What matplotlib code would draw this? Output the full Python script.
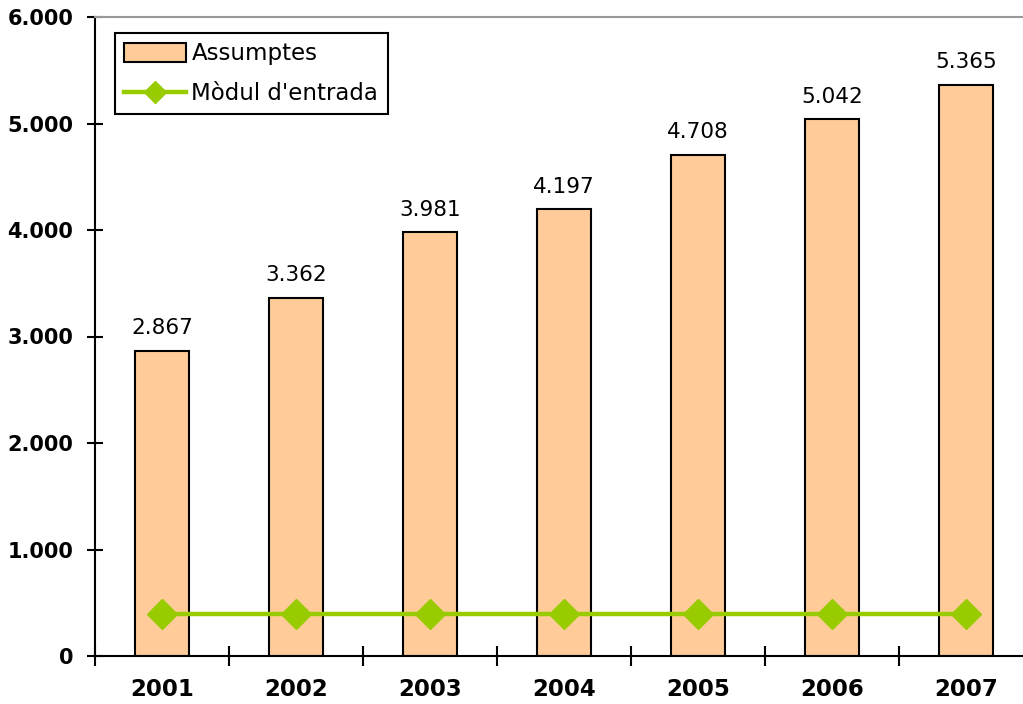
import numpy as np
import matplotlib.pyplot as plt
from matplotlib.ticker import FuncFormatter, FixedLocator

years = ['2001', '2002', '2003', '2004', '2005', '2006', '2007']
assumptes = [2867, 3362, 3981, 4197, 4708, 5042, 5365]
modul = [390, 390, 390, 390, 390, 390, 390]

bar_color = '#FFCC99'
line_color = '#99CC00'

fig = plt.figure(figsize=(10.23, 7.04), dpi=100)
ax = fig.add_axes([95 / 1023, 48 / 704, 938 / 1023, 639 / 704])

x = np.arange(len(years))
bars = ax.bar(x, assumptes, width=0.41, color=bar_color, edgecolor='black',
              linewidth=1.5, label='Assumptes', zorder=2)
line, = ax.plot(x, modul, color=line_color, lw=3.2, marker='D', markersize=15,
                label="Mòdul d'entrada", zorder=3)

# value labels over the bars
for xi, v in zip(x, assumptes):
    ax.annotate(f'{v:,}'.replace(',', '.'), (xi, v), xytext=(0, 9),
                textcoords='offset points', ha='center', va='bottom',
                fontsize=15.5)

ax.set_xlim(-0.5, len(years) - 0.5)
ax.set_ylim(0, 6000)
ax.set_yticks(np.arange(0, 6001, 1000))
ax.yaxis.set_major_formatter(FuncFormatter(lambda v, p: f'{int(v):,}'.replace(',', '.')))

ax.set_xticks(x)
ax.set_xticklabels(years)
ax.xaxis.set_minor_locator(FixedLocator(np.arange(-0.5, len(years), 1.0)))
ax.tick_params(axis='x', which='major', length=0, pad=16)
ax.tick_params(axis='x', which='minor', direction='inout', length=14, width=1.5)
ax.tick_params(axis='y', direction='inout', length=11, width=1.5, pad=10)

for lab in ax.get_xticklabels():
    lab.set_fontweight('bold')
    lab.set_fontsize(16.5)
for lab in ax.get_yticklabels():
    lab.set_fontweight('bold')
    lab.set_fontsize(15)

ax.spines['right'].set_visible(False)
ax.spines['top'].set_color('#999999')
ax.spines['top'].set_linewidth(1.5)
ax.spines['left'].set_linewidth(1.5)
ax.spines['bottom'].set_linewidth(1.5)

leg = ax.legend([bars, line], ['Assumptes', "Mòdul d'entrada"],
                loc='upper left', bbox_to_anchor=(0.021, 0.975), fontsize=16.5,
                frameon=True, fancybox=False, edgecolor='black', framealpha=1,
                handlelength=2.7, handleheight=0.9, handletextpad=0.25,
                markerscale=0.75, borderpad=0.4, labelspacing=0.75,
                borderaxespad=0)
leg.get_frame().set_linewidth(1.5)

fig.savefig('out.png', dpi=100)
